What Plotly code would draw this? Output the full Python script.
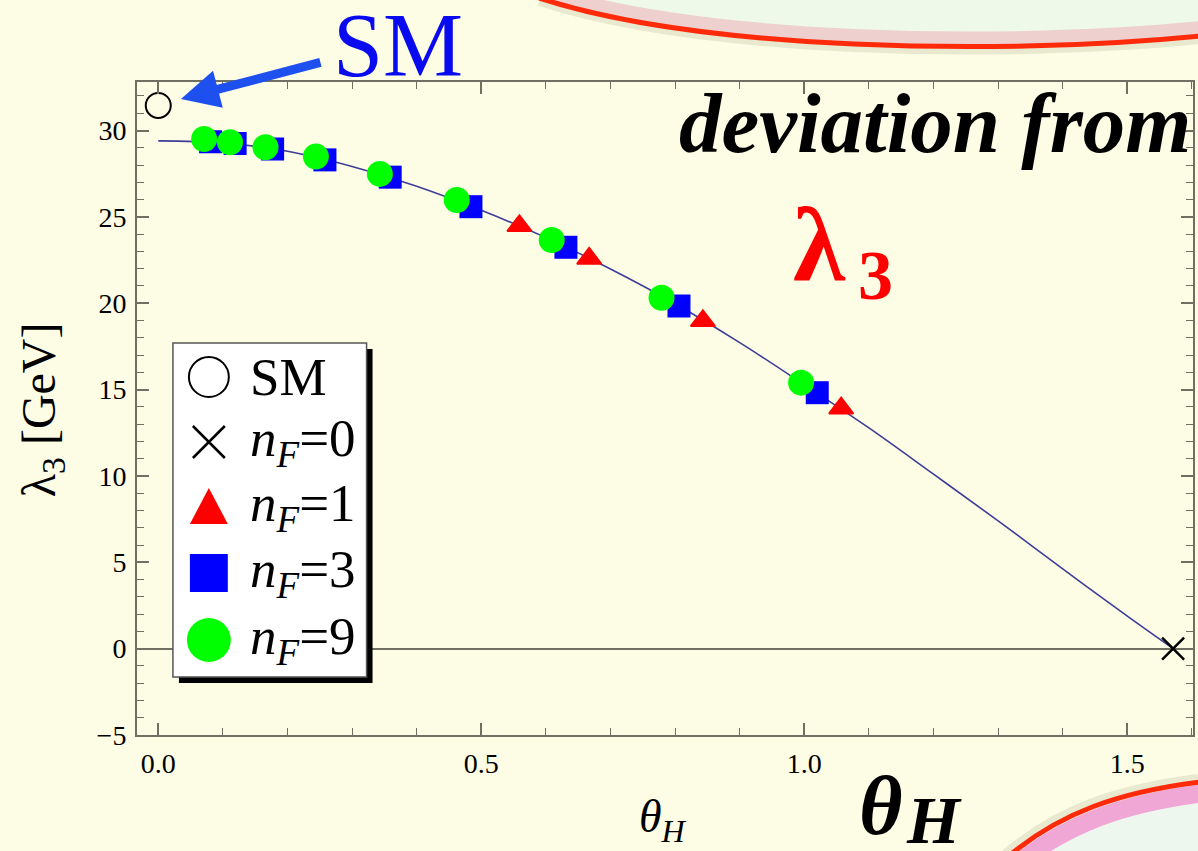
import plotly.graph_objects as go

# ---------------- data ----------------
theta_sm = [0.0]
lam_sm = [31.45]

theta_nf0 = [1.5708]
lam_nf0 = [0.0]

theta_nf1 = [0.559, 0.667, 0.843, 1.057]
lam_nf1 = [24.48, 22.59, 18.98, 13.92]

theta_nf3 = [0.081, 0.119, 0.177, 0.258, 0.359, 0.484, 0.631, 0.806, 1.020]
lam_nf3 = [29.35, 29.25, 28.93, 28.30, 27.30, 25.59, 23.24, 19.84, 14.82]

theta_nf9 = [0.071, 0.111, 0.166, 0.244, 0.343, 0.462, 0.609, 0.779, 0.995]
lam_nf9 = [29.51, 29.32, 29.03, 28.49, 27.49, 25.98, 23.66, 20.32, 15.40]

curve_theta = [0.0, 0.1, 0.2, 0.3, 0.4, 0.5, 0.6, 0.7, 0.8, 0.9, 1.0,
               1.1, 1.2, 1.3, 1.4, 1.5, 1.5708]
curve_lam = [29.40, 29.28, 28.80, 27.92, 26.78, 25.38, 23.80, 21.98, 19.97,
             17.72, 15.28, 12.78, 10.10, 7.40, 4.62, 1.88, 0.0]

legend_labels = ["SM", "<i>n</i><sub><i>F</i></sub>=0", "<i>n</i><sub><i>F</i></sub>=1",
                 "<i>n</i><sub><i>F</i></sub>=3", "<i>n</i><sub><i>F</i></sub>=9"]

# ---------------- style / geometry ----------------
W, H = 1198, 851
ML, MR, MT, MB = 137, 3, 82, 116
BG = "#fdfde5"
AX = "#6f6f62"
SERIF = "Liberation Serif, Times New Roman, serif"


def fx(px):
    return (px - ML) / (W - ML - MR)


def fy(py):
    return (H - MB - py) / (H - MT - MB)


def path_str(cmds):
    out = []
    for c in cmds:
        if isinstance(c, str):
            out.append(c)
        else:
            out.append(f"{fx(c[0]):.5f},{fy(c[1]):.5f}")
    return " ".join(out)


fig = go.Figure()

fig.add_trace(go.Scatter(x=curve_theta, y=curve_lam, mode="lines",
                         line=dict(color="#3d3d99", width=1.6, shape="spline"),
                         hoverinfo="skip"))
fig.add_trace(go.Scatter(x=theta_nf1, y=lam_nf1, mode="markers", name="nF=1",
                         marker=dict(symbol="triangle-up", size=21, color="#ff0000",
                                     line=dict(width=2, color="#ff0000"))))
fig.add_trace(go.Scatter(x=theta_nf3, y=lam_nf3, mode="markers", name="nF=3",
                         marker=dict(symbol="square", size=23, color="#0000ff")))
fig.add_trace(go.Scatter(x=theta_nf9, y=lam_nf9, mode="markers", name="nF=9",
                         marker=dict(symbol="circle", size=26, color="#00ff00")))
fig.add_trace(go.Scatter(x=theta_sm, y=lam_sm, mode="markers", name="SM",
                         marker=dict(symbol="circle-open", size=25, color="black",
                                     line=dict(width=2, color="black")), cliponaxis=False))
fig.add_trace(go.Scatter(x=theta_nf0, y=lam_nf0, mode="markers", name="nF=0",
                         marker=dict(symbol="x-thin-open", size=22, color="black",
                                     line=dict(width=2.5, color="black")), cliponaxis=False))

axis_common = dict(showline=True, linecolor=AX, linewidth=2, mirror="ticks",
                   ticks="inside", tickcolor=AX, tickwidth=1.5, ticklen=12,
                   showgrid=False, tickfont=dict(family=SERIF, size=28, color="black"))

fig.update_xaxes(range=[-0.0329, 1.6016], dtick=0.5, tick0=0, tickformat=".1f",
                 zeroline=False, ticklabelstandoff=2,
                 minor=dict(ticks="inside", dtick=0.1, tick0=0, ticklen=7,
                            tickcolor=AX, tickwidth=1.2, showgrid=False),
                 **axis_common)
fig.update_yaxes(range=[-5, 32.81], dtick=5, tick0=0, ticklabelstandoff=3,
                 zeroline=True, zerolinecolor=AX, zerolinewidth=1.5,
                 minor=dict(ticks="inside", dtick=1, tick0=0, ticklen=7,
                            tickcolor=AX, tickwidth=1.2, showgrid=False),
                 **axis_common)

shapes = []

# --- decorative top swoosh ---
top_arc = [(540, -2), (700, 50), (1000, 56), (1202, 36)]


def arc_path(pts, dx=0, dy=0, close=None):
    p = [(x + dx, y + dy) for x, y in pts]
    cmds = ["M", p[0], "C", p[1], p[2], p[3]]
    if close:
        for c in close:
            cmds += ["L", c]
        cmds.append("Z")
    return path_str(cmds)


shapes.append(dict(type="path", xref="paper", yref="paper", layer="above",
                   path=arc_path(top_arc, 0, 4), line=dict(color="rgba(90,90,60,0.12)", width=8)))
shapes.append(dict(type="path", xref="paper", yref="paper", layer="above",
                   path=arc_path(top_arc, close=[(1202, -10), (540, -10)]),
                   fillcolor="#eef9ea", line=dict(width=0)))
shapes.append(dict(type="path", xref="paper", yref="paper", layer="above",
                   path=arc_path(top_arc, 0, -8), line=dict(color="rgba(238,160,175,0.45)", width=14)))
shapes.append(dict(type="path", xref="paper", yref="paper", layer="above",
                   path=arc_path(top_arc), line=dict(color="#ff2a0a", width=5)))

# --- decorative bottom-right swoosh ---
bot_arc = [(1008, 858), (1062, 812), (1122, 792), (1202, 782)]
shapes.append(dict(type="path", xref="paper", yref="paper", layer="above",
                   path=arc_path(bot_arc, -2, -4), line=dict(color="rgba(90,90,60,0.12)", width=8)))
shapes.append(dict(type="path", xref="paper", yref="paper", layer="above",
                   path=arc_path(bot_arc, close=[(1202, 860)]),
                   fillcolor="#eef7ee", line=dict(width=0)))
shapes.append(dict(type="path", xref="paper", yref="paper", layer="above",
                   path=arc_path(bot_arc, 5, 11), line=dict(color="rgba(240,140,205,0.75)", width=18)))
shapes.append(dict(type="path", xref="paper", yref="paper", layer="above",
                   path=arc_path(bot_arc), line=dict(color="#ff2a0a", width=5)))

# --- custom legend box ---
LX0, LY0, LX1, LY1 = 173, 343, 367, 677
shapes.append(dict(type="rect", xref="paper", yref="paper", layer="above",
                   x0=fx(LX0 + 6), x1=fx(LX1 + 6), y0=fy(LY0 + 6), y1=fy(LY1 + 6),
                   fillcolor="black", line=dict(width=0)))
shapes.append(dict(type="rect", xref="paper", yref="paper", layer="above",
                   x0=fx(LX0), x1=fx(LX1), y0=fy(LY0), y1=fy(LY1),
                   fillcolor="white", line=dict(color="#555555", width=1.5)))
rows = [377, 442, 507, 573, 640]
SX = 209
# SM open circle
shapes.append(dict(type="circle", xref="paper", yref="paper", layer="above",
                   x0=fx(SX - 20), x1=fx(SX + 20), y0=fy(rows[0] - 20), y1=fy(rows[0] + 20),
                   line=dict(color="black", width=2)))
# cross
shapes.append(dict(type="path", xref="paper", yref="paper", layer="above",
                   path=path_str(["M", (SX - 16, rows[1] - 16), "L", (SX + 16, rows[1] + 16),
                                  "M", (SX - 16, rows[1] + 16), "L", (SX + 16, rows[1] - 16)]),
                   line=dict(color="black", width=2.5)))
# triangle
shapes.append(dict(type="path", xref="paper", yref="paper", layer="above",
                   path=path_str(["M", (SX - 19, rows[2] + 17), "L", (SX + 19, rows[2] + 17),
                                  "L", (SX, rows[2] - 19), "Z"]),
                   fillcolor="#ff0000", line=dict(width=0)))
# square
shapes.append(dict(type="rect", xref="paper", yref="paper", layer="above",
                   x0=fx(SX - 19), x1=fx(SX + 19), y0=fy(rows[3] - 19), y1=fy(rows[3] + 19),
                   fillcolor="#0000ff", line=dict(width=0)))
# green circle
shapes.append(dict(type="circle", xref="paper", yref="paper", layer="above",
                   x0=fx(SX - 22), x1=fx(SX + 22), y0=fy(rows[4] - 22), y1=fy(rows[4] + 22),
                   fillcolor="#00ff00", line=dict(width=0)))

annotations = []
for lab, ry in zip(legend_labels, rows):
    annotations.append(dict(text=lab, x=fx(248), y=fy(ry), xref="paper", yref="paper",
                            xanchor="left", yanchor="middle", showarrow=False,
                            font=dict(family=SERIF, size=53, color="black")))


def ann(text, x, y, size, color="black", xanchor="center", angle=0):
    annotations.append(dict(text=text, x=fx(x), y=fy(y), xref="paper", yref="paper",
                            xanchor=xanchor, yanchor="middle", showarrow=False,
                            textangle=angle,
                            font=dict(family=SERIF, size=size, color=color)))


# axis titles
ann("λ<sub>3</sub> [GeV]", 42, 410, 48, angle=-90)
ann("<i>θ</i><sub><i>H</i></sub>", 664, 820, 46)

# big slide texts
ann("SM", 398, 45, 90, color="#0a0af0")
ann("<b><i>deviation from</i></b>", 1195, 123, 85, xanchor="right")
ann("<b>λ</b>", 821, 245, 106, color="#ff0000")
ann("<b>3</b>", 877, 275, 70, color="#ff0000")
ann("<b><i>θ</i></b>", 882, 805, 84)
ann("<b><i>H</i></b>", 936, 820, 68)

# arrow pointing at SM
annotations.append(dict(text="", x=fx(181), y=fy(99), xref="paper", yref="paper",
                        ax=322 - 181, ay=62 - 99, axref="pixel", ayref="pixel",
                        showarrow=True, arrowhead=2, arrowsize=0.85, arrowwidth=9,
                        arrowcolor="#1e50f0"))

fig.update_layout(width=W, height=H, margin=dict(l=ML, r=MR, t=MT, b=MB),
                  paper_bgcolor=BG, plot_bgcolor=BG, showlegend=False,
                  shapes=shapes, annotations=annotations)

fig.write_html("out.html", config={"displayModeBar": False},
               post_script="document.body.style.margin='0';"
                           "document.body.style.background='" + BG + "';")
